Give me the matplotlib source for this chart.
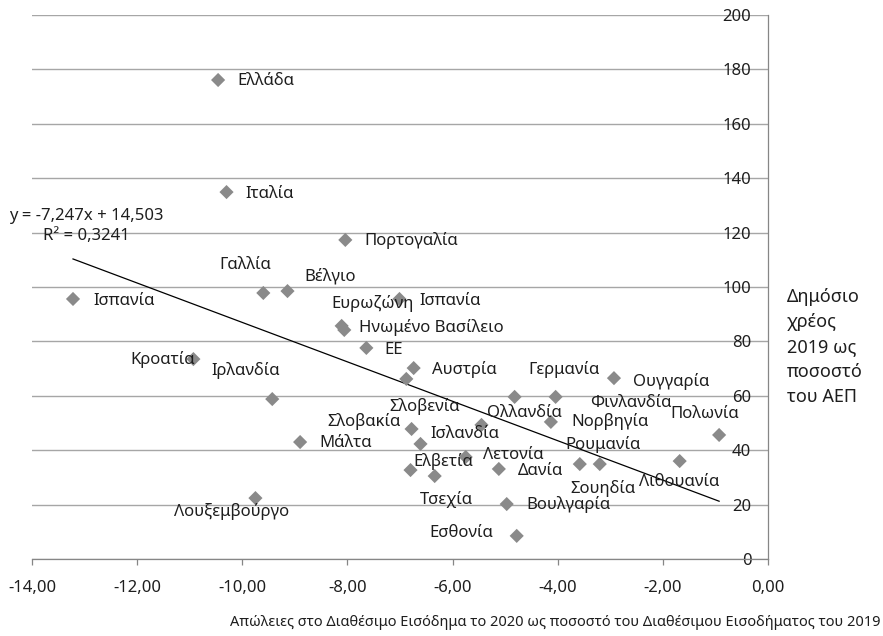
import matplotlib
matplotlib.use("Agg")
import matplotlib.pyplot as plt
from matplotlib.ticker import FixedLocator, FuncFormatter

plt.rcParams['font.family'] = ['Noto Sans', 'DejaVu Sans']

# ---------------- data ----------------
countries = ["Ελλάδα", "Ιταλία", "Πορτογαλία", "Γαλλία", "Βέλγιο", "Ισπανία",
             "Ευρωζώνη", "Ισπανία", "Ηνωμένο Βασίλειο", "ΕΕ", "Αυστρία", "Κροατία",
             "Ιρλανδία", "Γερμανία", "Ουγγαρία", "Σλοβενία", "Ολλανδία", "Φινλανδία",
             "Πολωνία", "Σλοβακία", "Νορβηγία", "Ισλανδία", "Μάλτα", "Ρουμανία",
             "Λετονία", "Ελβετία", "Δανία", "Σουηδία", "Λιθουανία", "Τσεχία",
             "Βουλγαρία", "Λουξεμβούργο", "Εσθονία"]
income_loss = [-10.46, -10.30, -8.04, -9.60, -9.14, -13.22,
               -8.11, -7.01, -8.06, -7.64, -6.74, -10.93,
               -9.43, -4.04, -2.93, -6.88, -5.45, -4.82,
               -0.93, -6.78, -4.13, -6.61, -8.90, -3.20,
               -5.75, -6.80, -5.12, -3.58, -1.68, -6.34,
               -4.97, -9.75, -4.78]
debt_2019 = [176.1, 134.9, 117.3, 97.8, 98.5, 95.6,
             85.7, 95.6, 84.2, 77.6, 70.2, 73.5,
             58.8, 59.6, 66.5, 66.2, 49.3, 59.6,
             45.6, 47.8, 50.4, 42.3, 43.0, 34.9,
             37.5, 32.7, 33.1, 34.9, 36.0, 30.5,
             20.2, 22.4, 8.5]
trend_slope = -7.247
trend_intercept = 14.503
equation_text = "y = -7,247x + 14,503\nR² = 0,3241"
x_ticks = [-14, -12, -10, -8, -6, -4, -2, 0]
y_ticks = [0, 20, 40, 60, 80, 100, 120, 140, 160, 180, 200]
x_title = "Απώλειες στο Διαθέσιμο Εισόδημα το 2020 ως ποσοστό του Διαθέσιμου Εισοδήματος του 2019"
y_title = "Δημόσιο\nχρέος\n2019 ως\nποσοστό\nτου ΑΕΠ"

# label placement (pixel offsets from marker: dx right, dy down, alignment)
label_layout = [(19, 1, 'left'), (19, 2, 'left'), (19, 1, 'left'), (-18, -28, 'center'),
                (43, -15, 'center'), (20, 2, 'left'), (31, -22, 'center'), (20, 2, 'left'),
                (15, -2, 'left'), (18, 2, 'left'), (18, 1, 'left'), (-31, 0, 'center'),
                (-27, -29, 'center'), (8, -27, 'center'), (19, 3, 'left'), (18, 28, 'center'),
                (43, -12, 'center'), (116, 6, 'center'), (-14, -21, 'center'),
                (-48, -7, 'center'), (20, 0, 'left'), (44, -10, 'center'), (19, 1, 'left'),
                (3, -20, 'center'), (17, -2, 'left'), (33, -9, 'center'), (19, 2, 'left'),
                (23, 24, 'center'), (0, 21, 'center'), (12, 23, 'center'), (20, 0, 'left'),
                (-24, 13, 'center'), (-55, -3, 'center')]

# ---------------- figure ----------------
W, H = 883, 636
fig = plt.figure(figsize=(W / 100, H / 100), dpi=100)
ax = fig.add_axes([32 / W, 1 - 559 / H, (768 - 32) / W, (559 - 15) / H])

text_color = '#1e1e1e'
grid_color = '#a6a6a6'
axis_color = '#868686'
marker_color = '#8a8a8a'
fs = 12

ax.set_xlim(-14, 0)
ax.set_ylim(0, 200)
ax.xaxis.set_major_locator(FixedLocator(x_ticks))
ax.yaxis.set_major_locator(FixedLocator(y_ticks))
ax.xaxis.set_major_formatter(FuncFormatter(lambda v, p: f"{v:.2f}".replace('.', ',')))
ax.yaxis.set_major_formatter(FuncFormatter(lambda v, p: f"{int(round(v))}"))

ax.grid(axis='y', color=grid_color, linewidth=1.0, zorder=0)
ax.set_axisbelow(True)
for s in ['top', 'left']:
    ax.spines[s].set_visible(False)
for s in ['right', 'bottom']:
    ax.spines[s].set_color(axis_color)
    ax.spines[s].set_linewidth(0.9)

ax.tick_params(axis='x', direction='out', length=4.3, width=0.9, color=axis_color,
               labelsize=fs, labelcolor=text_color, pad=10.5)
ax.tick_params(axis='y', left=False, right=False, labelleft=False, labelright=True,
               length=0, pad=-12, labelsize=fs, labelcolor=text_color)
for lab in ax.get_yticklabels():
    lab.set_horizontalalignment('right')

# points
ax.scatter(income_loss, debt_2019, marker='D', s=52, color=marker_color,
           edgecolors='none', zorder=3)

# trend line
xmin, xmax = min(income_loss), max(income_loss)
ax.plot([xmin, xmax], [trend_slope * xmin + trend_intercept, trend_slope * xmax + trend_intercept],
        color='black', linewidth=0.9, zorder=2)

# data labels
for name, x, y, (dx, dy, ha) in zip(countries, income_loss, debt_2019, label_layout):
    ax.annotate(name, xy=(x, y), xytext=(dx, -dy), textcoords='offset pixels',
                ha=ha, va='center', fontsize=fs, color=text_color, zorder=4)

# trend equation
fig.text(86 / W, 1 - 226 / H, equation_text, ha='center', va='center', fontsize=fs,
         color=text_color, linespacing=1.4, multialignment='center')

# axis titles
ax.set_xlabel(x_title, fontsize=10.5, color=text_color)
ax.xaxis.set_label_coords((555 - 32) / (768 - 32), -(623 - 559) / (559 - 15))
ax.xaxis.label.set_verticalalignment('center')
fig.text(787 / W, 1 - 347 / H, y_title, ha='left', va='center', fontsize=13,
         color=text_color, linespacing=1.5)

fig.savefig("out.png", dpi=100)
